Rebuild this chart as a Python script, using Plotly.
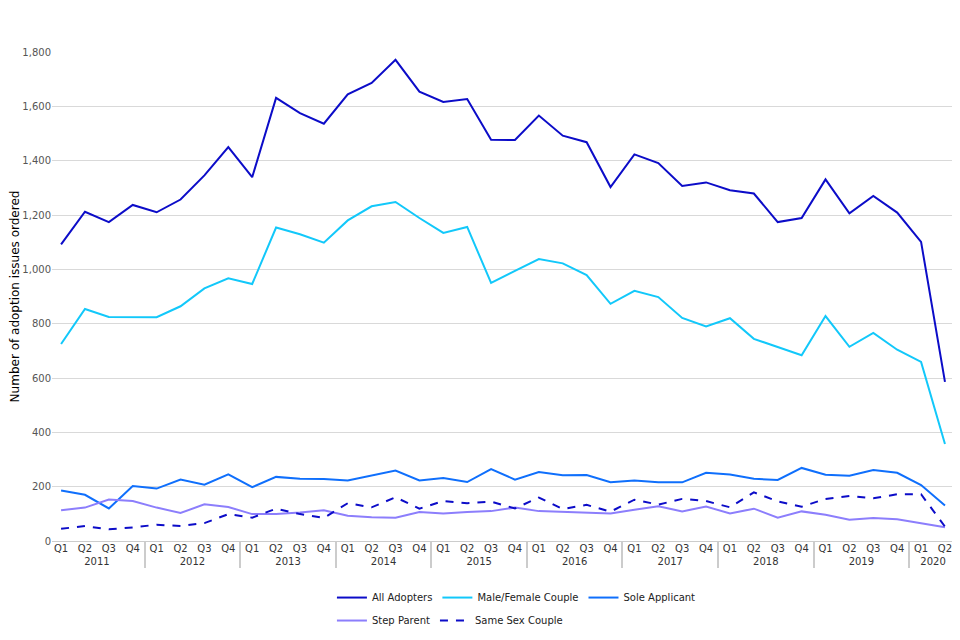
import plotly.graph_objects as go

years = ["2011"] * 4 + ["2012"] * 4 + ["2013"] * 4 + ["2014"] * 4 + ["2015"] * 4 + \
        ["2016"] * 4 + ["2017"] * 4 + ["2018"] * 4 + ["2019"] * 4 + ["2020"] * 2
quarters = ["Q1", "Q2", "Q3", "Q4"] * 9 + ["Q1", "Q2"]

all_adopters = [1092, 1212, 1174, 1237, 1210, 1257, 1346, 1450, 1339, 1631,
                1575, 1536, 1644, 1686, 1771, 1654, 1616, 1627, 1477, 1476,
                1566, 1492, 1468, 1303, 1423, 1391, 1307, 1320, 1291, 1279,
                1174, 1189, 1331, 1206, 1270, 1209, 1101, 586]
male_female = [725, 854, 825, 825, 824, 864, 930, 967, 946, 1154,
               1129, 1098, 1180, 1232, 1248, 1189, 1134, 1156, 950, 994,
               1038, 1022, 979, 873, 921, 898, 821, 790, 820, 744,
               713, 684, 828, 715, 766, 704, 659, 357]
sole_applicant = [186, 170, 120, 202, 193, 226, 207, 245, 198, 236,
                  229, 228, 223, 240, 259, 223, 232, 217, 265, 226,
                  254, 242, 243, 216, 223, 216, 216, 251, 245, 229,
                  225, 269, 244, 240, 261, 251, 206, 131]
step_parent = [113, 123, 153, 147, 123, 103, 135, 125, 99, 99,
               105, 113, 93, 87, 86, 107, 101, 107, 110, 123,
               110, 107, 103, 101, 115, 128, 109, 127, 101, 119,
               86, 109, 97, 78, 85, 80, 65, 51]
same_sex = [45, 55, 43, 50, 60, 55, 66, 99, 86, 119,
            99, 85, 139, 124, 161, 119, 147, 139, 145, 120,
            160, 118, 133, 108, 152, 134, 155, 147, 124, 179,
            146, 126, 155, 166, 157, 172, 172, 53]

font = "DejaVu Sans, sans-serif"
x = [years, quarters]

fig = go.Figure()
fig.add_trace(go.Scatter(x=x, y=all_adopters, name="All Adopters", mode="lines",
                         line=dict(color="#0c0cc8", width=2), legend="legend"))
fig.add_trace(go.Scatter(x=x, y=male_female, name="Male/Female Couple", mode="lines",
                         line=dict(color="#12c8fa", width=2), legend="legend"))
fig.add_trace(go.Scatter(x=x, y=sole_applicant, name="Sole Applicant", mode="lines",
                         line=dict(color="#0f6ffc", width=2), legend="legend"))
fig.add_trace(go.Scatter(x=x, y=step_parent, name="Step Parent", mode="lines",
                         line=dict(color="#8c7efc", width=2), legend="legend2"))
fig.add_trace(go.Scatter(x=x, y=same_sex, name="Same Sex Couple", mode="lines",
                         line=dict(color="#0c0cc8", width=2, dash="8px,8px"),
                         legend="legend2"))

# the page body adds an 8px offset, so the figure is a little smaller
fig.update_layout(
    width=952, height=632,
    margin=dict(l=44, r=5, t=44, b=99),
    plot_bgcolor="white", paper_bgcolor="white",
    font=dict(family=font, size=10, color="#333333"),
    xaxis=dict(type="multicategory", range=[-0.38, 37.42], automargin=False,
               showgrid=False, showline=False, ticks="",
               tickfont=dict(size=10, color="#333333"),
               dividercolor="#cccccc", dividerwidth=2),
    yaxis=dict(range=[0, 1800], dtick=200, tickformat=",", automargin=False,
               gridcolor="#d9d9d9", gridwidth=1, zeroline=True,
               zerolinecolor="#cccccc", zerolinewidth=1, showline=False,
               tickfont=dict(size=10, color="#555555"), ticks="",
               title=dict(text="Number of adoption issues ordered",
                          font=dict(size=12, color="#000000"), standoff=4)),
    legend=dict(orientation="h", x=0.31, xanchor="left", y=-0.086, yanchor="top",
                font=dict(size=10, color="#222222"), bgcolor="rgba(0,0,0,0)"),
    legend2=dict(orientation="h", x=0.31, xanchor="left", y=-0.133, yanchor="top",
                 font=dict(size=10, color="#222222"), bgcolor="rgba(0,0,0,0)"),
    showlegend=True,
)

fig.write_html("out.html")
